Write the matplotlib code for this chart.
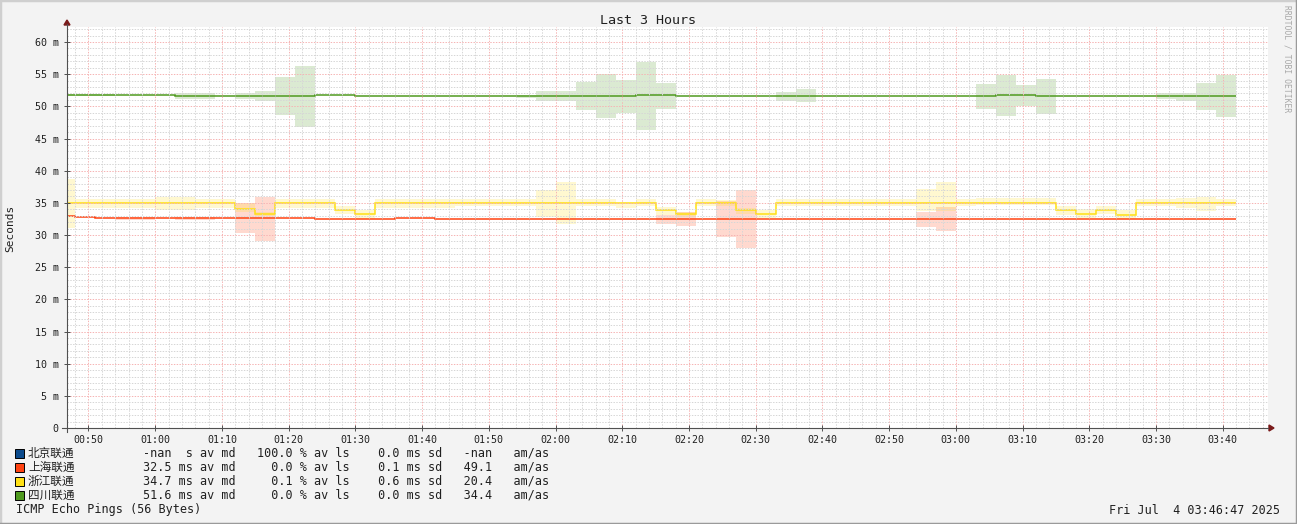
import numpy as np
import matplotlib
matplotlib.use("Agg")
import matplotlib.pyplot as plt
from matplotlib.ticker import MultipleLocator, FuncFormatter
from matplotlib.lines import Line2D
from matplotlib.patches import Rectangle, Polygon

# time axis (minutes after midnight), 3 minute steps
t_start, t_end = 46.78, 226.78
step_first, step_len = 48, 3

nan = np.nan

# 四川联通 (green)
sc_med = [51.8, 51.8, 51.8, 51.8, 51.8, 51.8, 51.65, 51.65, 51.65, 51.65,
          51.65, 51.65, 51.65, 51.75, 51.75, 51.6, 51.6, 51.6, 51.6, 51.6,
          51.6, 51.6, 51.6, 51.6, 51.6, 51.6, 51.6, 51.6, 51.6, 51.7,
          51.7, 51.6, 51.6, 51.6, 51.6, 51.6, 51.6, 51.6, 51.6, 51.6,
          51.6, 51.6, 51.6, 51.6, 51.6, 51.6, 51.6, 51.7, 51.7, 51.6,
          51.6, 51.6, 51.6, 51.6, 51.6, 51.6, 51.6, 51.6, 51.6]
sc_lo = [51.6, 51.6, 51.6, nan, nan, nan, 51.2, 51.2, nan, 51.1,
         50.8, 48.7, 46.8, nan, nan, nan, nan, nan, nan, nan,
         nan, nan, nan, 51.35, 50.9, 50.9, 49.4, 48.2, 49.0, 46.3,
         49.6, nan, nan, nan, nan, nan, 50.9, 50.6, nan, nan,
         nan, nan, nan, nan, nan, nan, 49.6, 48.5, 50.05, 48.8,
         nan, nan, nan, nan, nan, 51.2, 50.9, 49.4, 48.3]
sc_hi = [51.9, 51.9, 51.9, nan, nan, nan, 52.0, 52.0, nan, 52.1,
         52.4, 54.6, 56.3, nan, nan, nan, nan, nan, nan, nan,
         nan, nan, nan, 51.8, 52.4, 52.4, 53.8, 55.0, 54.1, 56.9,
         53.7, nan, nan, nan, nan, nan, 52.2, 52.7, nan, nan,
         nan, nan, nan, nan, nan, nan, 53.5, 54.8, 53.3, 54.25,
         nan, nan, nan, nan, nan, 52.0, 52.1, 53.6, 54.9]

# 上海联通 (orange)
sh_med = [32.9, 32.75, 32.6, 32.6, 32.6, 32.6, 32.6, 32.6, 32.6, 32.6,
          32.6, 32.6, 32.6, 32.45, 32.45, 32.45, 32.45, 32.6, 32.6, 32.45,
          32.45, 32.45, 32.45, 32.45, 32.45, 32.45, 32.45, 32.45, 32.45, 32.45,
          32.45, 32.45, 32.45, 32.45, 32.45, 32.45, 32.45, 32.45, 32.45, 32.45,
          32.45, 32.45, 32.45, 32.45, 32.45, 32.45, 32.45, 32.45, 32.45, 32.45,
          32.45, 32.45, 32.45, 32.45, 32.45, 32.45, 32.45, 32.45, 32.45]
sh_lo = [nan, nan, nan, 32.4, 32.4, nan, 32.4, 32.4, nan, 30.35,
         29.1, nan, nan, nan, nan, nan, nan, nan, nan, nan,
         nan, nan, nan, nan, nan, nan, nan, nan, nan, nan,
         31.75, 31.45, nan, 29.75, 28.0, nan, nan, nan, nan, nan,
         nan, nan, nan, 31.2, 30.6, nan, nan, nan, nan, nan,
         nan, nan, nan, nan, nan, nan, nan, nan, nan]
sh_hi = [nan, nan, nan, 32.8, 32.8, nan, 32.8, 32.8, nan, 34.9,
         35.95, nan, nan, nan, nan, nan, nan, nan, nan, nan,
         nan, nan, nan, nan, nan, nan, nan, nan, nan, nan,
         33.1, 33.6, nan, 35.3, 37.0, nan, nan, nan, nan, nan,
         nan, nan, nan, 33.6, 34.4, nan, nan, nan, nan, nan,
         nan, nan, nan, nan, nan, nan, nan, nan, nan]

# 浙江联通 (yellow)
zj_med = [34.95, 34.95, 34.95, 34.95, 34.95, 34.95, 34.95, 34.95, 34.95, 34.0,
          33.2, 34.95, 34.95, 34.95, 33.9, 33.2, 34.95, 34.95, 34.95, 34.95,
          34.95, 34.95, 34.95, 34.95, 34.95, 34.95, 34.95, 34.95, 34.95, 34.95,
          33.85, 33.2, 34.95, 34.95, 33.85, 33.2, 34.95, 34.95, 34.95, 34.95,
          34.95, 34.95, 34.95, 34.95, 34.95, 34.95, 34.95, 34.95, 34.95, 34.95,
          33.9, 33.2, 33.9, 33.05, 34.95, 34.95, 34.95, 34.95, 34.95]
zj_lo = [31.1, 34.25, 34.25, 34.25, 34.25, 33.9, 33.9, 34.25, 34.25, 33.6,
         32.9, 34.25, 34.25, 34.25, 33.2, 32.45, 34.25, 34.25, 34.25, 34.25,
         34.5, 34.5, 34.5, 34.5, 32.85, 31.75, 34.5, 34.5, 34.2, 34.5,
         33.1, 32.8, 34.5, 34.5, 33.2, 32.6, 34.5, 34.5, 34.5, 34.5,
         34.5, 34.5, 34.5, 33.7, 33.7, 34.5, 34.6, 34.6, 34.6, 34.6,
         33.1, 32.7, 33.2, 32.45, 34.5, 34.5, 34.2, 33.8, 34.5]
zj_hi = [38.7, 35.6, 35.6, 35.6, 35.6, 35.95, 35.95, 35.6, 35.6, 34.9,
         33.5, 35.6, 35.6, 35.6, 34.5, 33.9, 35.6, 35.6, 35.6, 35.6,
         35.6, 35.6, 35.6, 35.6, 37.0, 38.2, 35.6, 35.6, 35.0, 35.6,
         34.4, 33.6, 35.6, 35.4, 34.15, 33.9, 35.6, 35.6, 35.6, 35.6,
         35.6, 35.6, 35.6, 37.15, 38.2, 35.6, 35.8, 35.8, 35.8, 35.8,
         34.5, 34.0, 34.55, 33.9, 35.6, 35.6, 35.8, 35.95, 35.6]

names = ["北京联通", "上海联通", "浙江联通", "四川联通"]
colors = ["#0B4A8C", "#FF4312", "#FFE014", "#4F9A1F"]
stats = [
    "-nan  s av md   100.0 % av ls    0.0 ms sd   -nan   am/as",
    "32.5 ms av md     0.0 % av ls    0.1 ms sd   49.1   am/as",
    "34.7 ms av md     0.1 % av ls    0.6 ms sd   20.4   am/as",
    "51.6 ms av md     0.0 % av ls    0.0 ms sd   34.4   am/as",
]

W, H = 1297, 524
MONO = "DejaVu Sans Mono"
CJK = ["Noto Sans CJK SC", "DejaVu Sans"]


def fx(x):
    return x / W


def fy(y):
    return 1 - y / H


fig = plt.figure(figsize=(W / 100, H / 100), dpi=100)
fig.patch.set_facecolor("#F3F3F3")

ax = fig.add_axes([fx(67), fy(428), (1268 - 67) / W, (428 - 27) / H])
ax.set_facecolor("white")

edges = np.concatenate([[t_start], step_first + step_len * np.arange(len(sc_med))])


def draw_series(med, lo, hi, color, z):
    med = np.array(med, dtype=float)
    lo = np.array(lo, dtype=float)
    hi = np.array(hi, dtype=float)
    lo = np.where(np.isnan(lo), med, lo)
    hi = np.where(np.isnan(hi), med, hi)
    ax.stairs(hi, edges, baseline=lo, fill=True, color=color, alpha=0.2,
              linewidth=0, zorder=z)
    ax.stairs(med, edges, baseline=None, color=color, linewidth=1.1,
              zorder=z + 0.5)


draw_series(sh_med, sh_lo, sh_hi, colors[1], 1.0)
draw_series(zj_med, zj_lo, zj_hi, colors[2], 1.1)
draw_series(sc_med, sc_lo, sc_hi, colors[3], 1.2)

ax.set_xlim(t_start, t_end)
ax.set_ylim(0, (428 - 27) / 6.433)

ax.xaxis.set_major_locator(MultipleLocator(10))
ax.xaxis.set_minor_locator(MultipleLocator(2))
ax.yaxis.set_major_locator(MultipleLocator(5))
ax.yaxis.set_minor_locator(MultipleLocator(1))
ax.xaxis.set_major_formatter(FuncFormatter(
    lambda v, p: "%02d:%02d" % (int(round(v)) // 60, int(round(v)) % 60)))
ax.yaxis.set_major_formatter(FuncFormatter(
    lambda v, p: "0" if abs(v) < 1e-9 else "%d m" % round(v)))

ax.set_axisbelow(False)
ax.grid(which="minor", color="#D6D6D6", linestyle=(0, (1.4, 1.4)), linewidth=0.72)
ax.grid(which="major", color="#F6B4B4", linestyle=(0, (1.4, 1.4)), linewidth=0.72)

ax.tick_params(which="major", direction="inout", length=4, width=0.7,
               color="#505050", labelsize=7.2, labelcolor="#202020")
ax.tick_params(axis="x", which="major", pad=3)
ax.tick_params(axis="y", which="major", pad=4)
ax.tick_params(which="minor", length=0)
for lab in ax.get_xticklabels() + ax.get_yticklabels():
    lab.set_family(MONO)
for s in ax.spines.values():
    s.set_visible(False)

# axis lines with arrows
fig.add_artist(Line2D([fx(67), fx(67)], [fy(432), fy(24)], color="#505050", lw=0.8))
fig.add_artist(Line2D([fx(62), fx(1268)], [fy(428), fy(428)], color="#505050", lw=0.8))
fig.add_artist(Polygon([[fx(64), fy(25)], [fx(70), fy(25)], [fx(67), fy(20)]],
                       closed=True, color="#7A1A1A", transform=fig.transFigure))
fig.add_artist(Polygon([[fx(1269), fy(425)], [fx(1269), fy(431)], [fx(1274), fy(428)]],
                       closed=True, color="#7A1A1A", transform=fig.transFigure))

# titles and labels
fig.text(fx(648), fy(20), "Last 3 Hours", ha="center", va="center",
         family=MONO, size=9.6, color="#202020")
fig.text(fx(10), fy(228), "Seconds", ha="center", va="center", rotation=90,
         family=MONO, size=8, color="#202020")
fig.text(fx(1287), fy(5), "RRDTOOL / TOBI OETIKER", ha="center", va="top",
         rotation=270, family=MONO, size=5.8, color="#A8A8A8")

# legend
for i, (nm, c, st) in enumerate(zip(names, colors, stats)):
    yc = 453 + 14 * i
    fig.add_artist(Rectangle((fx(15), fy(yc + 4.5)), 9 / W, 9 / H,
                             facecolor=c, edgecolor="black", linewidth=0.7,
                             transform=fig.transFigure))
    fig.text(fx(28), fy(yc), nm, ha="left", va="center", family=CJK,
             size=8.4, color="#202020")
    fig.text(fx(143), fy(yc), st, ha="left", va="center", family=MONO,
             size=8.5, color="#202020")

fig.text(fx(16), fy(510), "ICMP Echo Pings (56 Bytes)", ha="left", va="center",
         family=MONO, size=8.5, color="#202020")
fig.text(fx(1280), fy(510), "Fri Jul  4 03:46:47 2025", ha="right", va="center",
         family=MONO, size=8.5, color="#202020")

# outer frame
fig.add_artist(Line2D([0, 0, 1], [0, 1, 1], color="#CFCFCF", lw=2.5))
fig.add_artist(Line2D([0, 1, 1], [0, 0, 1], color="#9A9A9A", lw=2.5))

fig.savefig("out.png", dpi=100, facecolor=fig.get_facecolor())
